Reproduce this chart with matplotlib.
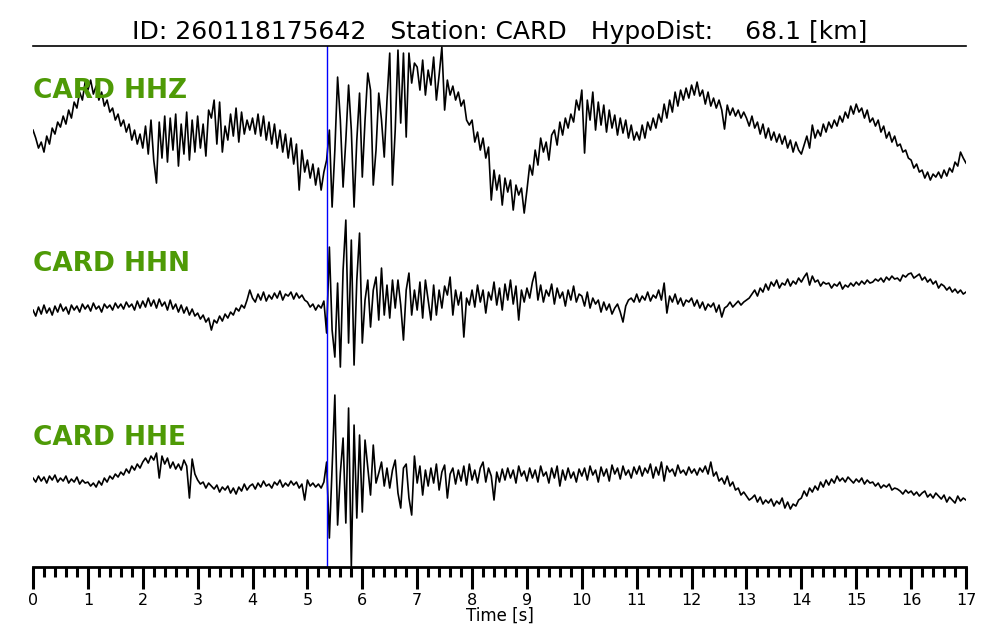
import numpy as np
import matplotlib
matplotlib.use("Agg")
import matplotlib.pyplot as plt
from matplotlib.ticker import MultipleLocator

# event / station info
event_id = "260118175642"
station = "CARD"
hypo_dist = 68.1
p_pick = 5.357  # s

dt = 0.05
channels = ["HHZ", "HHN", "HHE"]

# traces, one row per second (20 samples of 0.05 s)
hhz = [
    0, -8, -18, -12, -22, -6, -14, 2, -4, 8, 3, 14, 6, 20, 12, 28, 22, 38, 30, 48,
    40, 50, 36, 44, 30, 38, 24, 30, 18, 22, 10, 16, 4, 10, -2, 6, -10, 0, -14, -4,
    -18, 4, -24, 10, -30, -53, 8, -28, 14, -32, 12, -20, 16, -36, 6, -24, 18, -30, 10, -22,
    14, -18, 6, -26, 20, 12, 30, -14, 28, -22, 4, -10, 16, -6, 22, -12, 18, -4, 10, 0,
    12, -4, 16, -6, 14, -10, 8, -14, 6, -18, 0, -22, -4, -28, -8, -34, -14, -60, -20, -42,
    -30, -48, -34, -55, -38, -60, -42, -30, 0, -77, -20, 53, 10, -57, -10, 45, 0, -77, -10, 37,
    -47, 10, 57, 40, -55, -20, 37, 10, -27, 30, 77, -55, 0, 80, 7, 77, -7, 77, 47, 67,
    63, 40, 70, 35, 60, 45, 73, 30, 55, 83, 20, 50, 35, 44, 30, 38, 24, 30, 10, 5,
    10, -12, -2, -20, -8, -28, -17, -70, -40, -60, -45, -75, -48, -62, -50, -80, -55, -65, -58, -83,
    -60, -35, -45, -20, -35, -8, -22, -12, -30, -5, 0, -15, 8, -5, 12, 2, 16, 8, 30, 20,
    40, -23, 30, 10, 38, 0, 28, 5, 25, -2, 20, 2, 15, -5, 12, -3, 10, -8, 5, -10,
    -2, -10, 5, -8, 8, 0, 12, 2, 16, 8, 26, 12, 30, 18, 38, 24, 40, 30, 42, 32,
    45, 35, 48, 34, 40, 26, 38, 24, 32, 22, 30, 20, 1, 25, 15, 22, 14, 20, 12, 18,
    12, 4, 14, 2, 8, -4, 6, -8, 2, -10, -2, -12, -4, -14, -6, -18, -10, -22, -12, -20,
    -24, -15, -6, -18, 5, -8, 0, -6, 6, -2, 8, 2, 10, 4, 14, 8, 18, 12, 24, 16,
    26, 18, 22, 12, 20, 8, 12, 4, 10, -2, 4, -8, -2, -12, -6, -16, -14, -22, -20, -28,
    -30, -38, -34, -42, -40, -48, -42, -50, -44, -47, -42, -48, -40, -46, -38, -42, -32, -36, -22, -28,
    -33,
]
hhn = [
    0, -6, 3, -4, 5, -3, 2, -5, 4, -2, 6, -1, 3, -4, 5, 0, 4, -2, 6, 1,
    5, -1, 7, 1, 4, -2, 6, 2, 5, 0, 7, 2, 6, 1, 8, 3, 6, 0, 9, 2,
    9, 3, 12, 4, 10, 2, 11, 4, 8, 0, 10, 1, 6, -2, 5, -3, 3, -5, 1, -6,
    -3, -9, -5, -12, -8, -20, -10, -13, -6, -11, -4, -8, -2, -5, 2, -1, 5, 2, 10, 20,
    12, 8, 16, 10, 18, 9, 15, 11, 17, 12, 19, 10, 16, 14, 18, 11, 17, 12, 15, 10,
    8, 3, 6, 0, 5, 2, 9, -23, 63, -20, -47, 27, -57, 40, 90, -33, 70, -55, 30, 77,
    -33, 10, 30, -17, 20, 33, -10, 42, -5, 25, -8, 30, 2, 30, 5, -30, 20, 37, -5, 20,
    0, 28, -8, 30, 10, -10, 25, -5, 20, 2, 24, 15, 33, -5, 20, 5, 18, -27, 12, 5,
    20, 3, 25, 8, 20, -3, 18, 10, 28, 5, 22, 0, 26, 10, 30, 6, 24, -10, 20, 8,
    22, 12, 28, 38, 10, 25, 8, 20, 14, 26, 6, 22, 12, 18, 4, 20, 10, 24, 8, 16,
    14, 4, 18, 2, 12, 6, 10, -2, 8, 0, 6, -4, 2, 6, -2, -12, 4, 10, 12, 8,
    16, 8, 14, 10, 18, 9, 15, 12, 20, 10, 27, -3, 14, 8, 16, 6, 12, 4, 10, 8,
    12, 4, 10, 2, 8, 0, 6, 3, 7, -2, 5, -7, 2, 4, 8, 3, 6, 9, 5, 8,
    10, 12, 16, 20, 14, 22, 18, 26, 20, 28, 24, 30, 22, 27, 25, 31, 24, 29, 26, 32,
    28, 33, 37, 25, 34, 28, 30, 24, 28, 26, 27, 22, 26, 24, 28, 21, 25, 23, 27, 24,
    28, 25, 29, 26, 30, 27, 28, 31, 29, 32, 28, 33, 30, 34, 31, 32, 29, 35, 33, 36,
    37, 32, 34, 36, 30, 33, 28, 31, 26, 29, 22, 26, 24, 20, 23, 18, 21, 17, 20, 16,
    18,
]
hhe = [
    0, -4, 2, -3, 1, -5, 2, -2, 3, -4, 0, -3, 2, -5, -1, -4, 1, -6, -2, -5,
    -4, -8, -5, -9, -3, -7, 0, -4, 2, -1, 4, 1, 6, 3, 9, 5, 12, 8, 14, 10,
    16, 20, 15, 22, 18, 25, 0, 22, 14, 20, 10, 16, 9, 14, 8, 18, 12, -20, 19, 4,
    -2, -6, -4, -10, -5, -8, -11, -7, -14, -9, -12, -8, -15, -10, -16, -9, -13, -6, -12, -8,
    -6, -11, -5, -9, -3, -8, -6, -10, -4, -7, -2, -9, -5, -8, -3, -7, -4, -10, -6, -22,
    -2, -8, -5, -9, -6, -10, -4, 16, -60, 10, 83, -47, 5, 40, -45, 70, -89, 53, -40, 43,
    -34, 38, 10, -17, 33, -5, 5, 16, -8, 10, -10, 8, 18, -15, -30, 10, 14, -20, -37, 22,
    -5, 12, -17, 8, -8, 10, -5, 14, -12, 6, 13, -20, 4, 10, -6, 8, -3, 12, -7, 14,
    -2, 8, -5, 10, 16, -4, 10, 2, -22, 6, -4, 9, -2, 10, 0, 8, -5, 12, 2, 7,
    -3, 10, 0, 8, -4, 12, 2, 6, -5, 10, 0, 12, -8, 8, -2, 10, 0, 6, -4, 9,
    2, 10, -2, 12, 3, 8, -4, 11, 2, 9, -3, 13, 4, 10, -1, 12, 3, 8, 0, 11,
    4, 12, 2, 10, 5, 14, 0, 11, 3, 16, -3, 12, 6, 9, 2, 13, 5, 8, 3, 11,
    5, 9, 3, 10, 6, 12, 4, 16, 2, 6, -3, 0, -6, 2, -8, -4, -12, -10, -17, -14,
    -18, -22, -20, -17, -24, -19, -26, -22, -25, -21, -28, -23, -26, -20, -30, -24, -31, -26, -28, -22,
    -20, -13, -18, -10, -14, -8, -12, -4, -9, -2, -7, -1, -5, 2, -3, 0, -4, 1, -2, -5,
    -1, -4, 0, -6, -2, -5, -4, -8, -5, -10, -7, -9, -6, -12, -10, -11, -13, -16, -12, -15,
    -13, -17, -14, -18, -15, -13, -19, -16, -20, -15, -18, -21, -17, -24, -19, -22, -25, -18, -23, -20,
    -22,
]
traces = [hhz, hhn, hhe]

# vertical placement of each trace and its label
offsets = [437, 257, 89]
label_y = [476, 303, 129]
green = "#4e9a06"

fig = plt.figure(figsize=(10, 6.4), dpi=100)
ax = fig.add_axes([0.033, 0.114, 0.933, 0.814])

for tr, off, ly, ch in zip(traces, offsets, label_y, channels):
    y = np.array(tr, dtype=float)
    t = np.arange(len(y)) * dt
    ax.plot(t, y + off, color="black", lw=1.2)
    ax.text(0, ly, "%s %s" % (station, ch), color=green, fontsize=19,
            fontweight="bold", ha="left", va="center")

ax.axvline(p_pick, color="blue", lw=1.0)

ax.set_xlim(0, 17)
ax.set_ylim(0, 521)
ax.spines["left"].set_visible(False)
ax.spines["right"].set_visible(False)
ax.spines["top"].set_linewidth(1.2)
ax.spines["bottom"].set_linewidth(2.0)
ax.set_yticks([])
ax.xaxis.set_major_locator(MultipleLocator(1))
ax.xaxis.set_minor_locator(MultipleLocator(0.2))
ax.tick_params(axis="x", which="major", length=16, width=2.2, labelsize=11.5, pad=3)
ax.tick_params(axis="x", which="minor", length=7.5, width=2.2)
ax.set_xlabel("Time [s]", fontsize=12, labelpad=-1)

ax.set_title("ID: %s   Station: %s   HypoDist:    %.1f [km]" % (event_id, station, hypo_dist),
             fontsize=18, pad=5)

fig.savefig("out.png", dpi=100)
